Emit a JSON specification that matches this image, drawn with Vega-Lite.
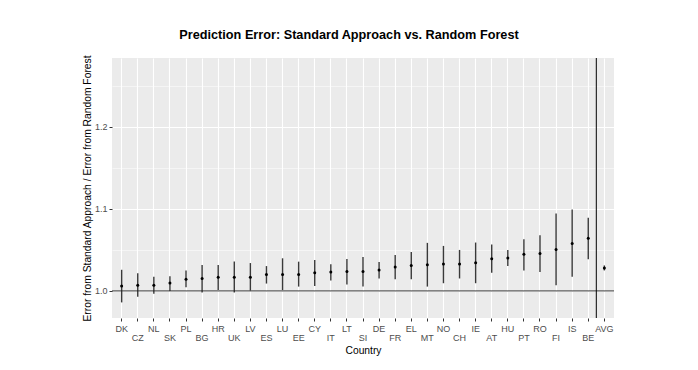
{
  "$schema": "https://vega.github.io/schema/vega-lite/v6.json",
  "autosize": {"type": "none"},
  "width": 502,
  "height": 260,
  "padding": {"left": 112, "top": 58, "right": 84, "bottom": 52},
  "background": "white",
  "title": {
    "text": "Prediction Error: Standard Approach vs. Random Forest",
    "font": "Liberation Sans",
    "fontSize": 12.7,
    "fontWeight": "bold",
    "color": "#000000",
    "anchor": "middle",
    "dx": -14,
    "offset": 13
  },
  "config": {
    "view": {"fill": "#EBEBEB", "stroke": null},
    "axis": {
      "labelFont": "Liberation Sans",
      "titleFont": "Liberation Sans",
      "labelColor": "#4D4D4D",
      "labelFontSize": 9,
      "titleFontSize": 10.3,
      "titleFontWeight": "normal",
      "titleColor": "#000000",
      "domain": false,
      "tickColor": "#333333",
      "tickSize": 3,
      "gridColor": "#FFFFFF"
    }
  },
  "data": {
    "values": [
      {"country": "DK", "est": 1.0061, "lo": 0.9860, "hi": 1.0258},
      {"country": "CZ", "est": 1.0070, "lo": 0.9930, "hi": 1.0217},
      {"country": "NL", "est": 1.0070, "lo": 0.9967, "hi": 1.0172},
      {"country": "SK", "est": 1.0098, "lo": 1.0000, "hi": 1.0180},
      {"country": "PL", "est": 1.0143, "lo": 1.0045, "hi": 1.0250},
      {"country": "BG", "est": 1.0152, "lo": 0.9980, "hi": 1.0316},
      {"country": "HR", "est": 1.0168, "lo": 1.0012, "hi": 1.0316},
      {"country": "UK", "est": 1.0168, "lo": 0.9980, "hi": 1.0360},
      {"country": "LV", "est": 1.0168, "lo": 1.0004, "hi": 1.0340},
      {"country": "ES", "est": 1.0200, "lo": 1.0090, "hi": 1.0303},
      {"country": "LU", "est": 1.0200, "lo": 1.0010, "hi": 1.0398},
      {"country": "EE", "est": 1.0200, "lo": 1.0053, "hi": 1.0357},
      {"country": "CY", "est": 1.0221, "lo": 1.0060, "hi": 1.0377},
      {"country": "IT", "est": 1.0230, "lo": 1.0127, "hi": 1.0324},
      {"country": "LT", "est": 1.0238, "lo": 1.0078, "hi": 1.0390},
      {"country": "SI", "est": 1.0238, "lo": 1.0053, "hi": 1.0414},
      {"country": "DE", "est": 1.0254, "lo": 1.0152, "hi": 1.0352},
      {"country": "FR", "est": 1.0291, "lo": 1.0143, "hi": 1.0439},
      {"country": "EL", "est": 1.0311, "lo": 1.0143, "hi": 1.0475},
      {"country": "MT", "est": 1.0320, "lo": 1.0053, "hi": 1.0586},
      {"country": "NO", "est": 1.0328, "lo": 1.0094, "hi": 1.0549},
      {"country": "CH", "est": 1.0328, "lo": 1.0152, "hi": 1.0500},
      {"country": "IE", "est": 1.0344, "lo": 1.0094, "hi": 1.0590},
      {"country": "AT", "est": 1.0393, "lo": 1.0221, "hi": 1.0566},
      {"country": "HU", "est": 1.0402, "lo": 1.0303, "hi": 1.0500},
      {"country": "PT", "est": 1.0447, "lo": 1.0250, "hi": 1.0631},
      {"country": "RO", "est": 1.0455, "lo": 1.0230, "hi": 1.0680},
      {"country": "FI", "est": 1.0504, "lo": 1.0070, "hi": 1.0943},
      {"country": "IS", "est": 1.0578, "lo": 1.0172, "hi": 1.0992},
      {"country": "BE", "est": 1.0643, "lo": 1.0385, "hi": 1.0893},
      {"country": "AVG", "est": 1.0279, "lo": 1.0250, "hi": 1.0311}
    ]
  },
  "layer": [
    {
      "mark": {"type": "rule", "color": "#3A3A3A", "strokeWidth": 1.4},
      "encoding": {
        "x": {
          "field": "country",
          "type": "nominal",
          "sort": null,
          "scale": {
            "type": "band",
            "paddingInner": 0,
            "paddingOuter": 0.1,
            "domain": ["DK","CZ","NL","SK","PL","BG","HR","UK","LV","ES","LU","EE","CY","IT","LT","SI","DE","FR","EL","MT","NO","CH","IE","AT","HU","PT","RO","FI","IS","BE","AVG"]
          },
          "axis": {
            "title": "Country",
            "labelAngle": 0,
            "grid": true,
            "gridWidth": 1.1,
            "labelPadding": {
              "condition": {"test": "indexof(['CZ','SK','BG','UK','ES','EE','IT','SI','FR','MT','CH','AT','PT','FI','BE'], datum.value) >= 0", "value": 12},
              "value": 3
            },
            "titlePadding": 3
          }
        },
        "y": {
          "field": "lo",
          "type": "quantitative",
          "scale": {"domain": [0.967, 1.284], "nice": false, "zero": false},
          "axis": {
            "title": "Error from Standard Approach / Error from Random Forest",
            "values": [1.0, 1.05, 1.1, 1.15, 1.2, 1.25],
            "labelExpr": "round(datum.value*100) % 10 == 5 ? '' : format(datum.value, '.1f')",
            "grid": true,
            "gridWidth": {"condition": {"test": "round(datum.value*100) % 10 == 5", "value": 0.5}, "value": 1.1},
            "tickSize": {"condition": {"test": "round(datum.value*100) % 10 == 5", "value": 0}, "value": 3},
            "labelPadding": 2,
            "titlePadding": 2
          }
        },
        "y2": {"field": "hi"}
      }
    },
    {
      "mark": {"type": "point", "shape": "circle", "filled": true, "color": "#000000", "size": 9, "opacity": 1},
      "encoding": {
        "x": {"field": "country", "type": "nominal"},
        "y": {"field": "est", "type": "quantitative"}
      }
    },
    {
      "data": {"values": [{"ref": 1}]},
      "mark": {"type": "rule", "color": "#222222", "strokeWidth": 0.9},
      "encoding": {
        "y": {"field": "ref", "type": "quantitative"}
      }
    },
    {
      "data": {"values": [{"split": "AVG"}]},
      "mark": {"type": "rule", "color": "#000000", "strokeWidth": 1},
      "encoding": {
        "x": {"field": "split", "type": "nominal", "bandPosition": 0}
      }
    }
  ]
}
